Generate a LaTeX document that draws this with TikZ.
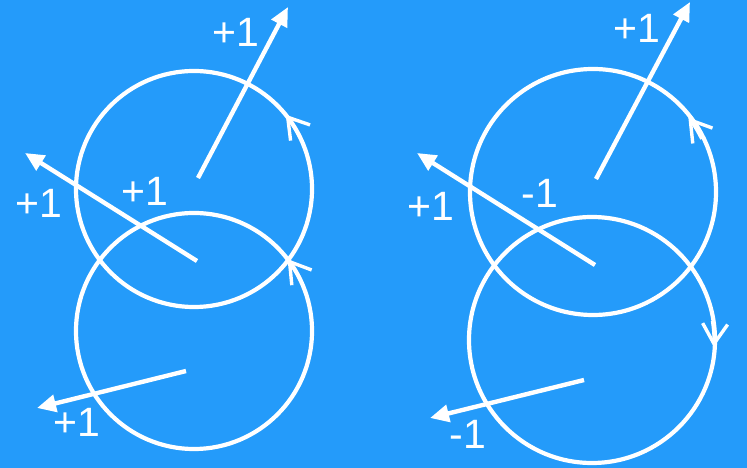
\documentclass[tikz,border=0pt]{standalone}
\usepackage{fontspec}
\setmainfont{Liberation Sans}
\usetikzlibrary{arrows.meta,calc}
\definecolor{bg}{RGB}{36,155,250}
\begin{document}
\begin{tikzpicture}[x=1pt,y=1pt,
  loop/.style={draw=white,line width=4.2pt},
  vec/.style={draw=white,line width=4.4pt,-{Triangle[length=19pt,width=17pt]}},
  dirtip/.style={draw=white,line width=3.4pt,-{Straight Barb[length=20pt,width=25pt,line width=3.4pt]}},
  lbl/.style={text=white,inner sep=0pt,font=\fontsize{41}{44}\selectfont}]
\fill[bg] (0,0) rectangle (747,468);
\useasboundingbox (0,0) rectangle (747,468);
% centres
\coordinate (c1) at (194,279);
\coordinate (c2) at (194,137);
\coordinate (c3) at (593,276);
\coordinate (c4) at (592,128);
% loops
\draw[loop] (c1) circle[radius=118];
\draw[loop] (c2) circle[radius=118];
\draw[loop] (c3) circle[radius=123];
\draw[loop] (c4) circle[radius=123];
% orientation tips
\draw[dirtip] ($(c1)+(26:118)$) arc[start angle=26,end angle=39,radius=118];
\draw[dirtip] ($(c2)+(25:118)$) arc[start angle=25,end angle=37.5,radius=118];
\draw[dirtip] ($(c3)+(26:121)$) arc[start angle=26,end angle=38,radius=121];
\draw[dirtip] ($(c4)+(9:122)$) arc[start angle=9,end angle=-3.3,radius=122];
% vectors
\coordinate (a1) at (198,290); \coordinate (b1) at (288,461);
\coordinate (a2) at (197,207); \coordinate (b2) at (25,315);
\coordinate (a3) at (186,97);  \coordinate (b3) at (37,60);
\coordinate (a4) at (596,289); \coordinate (b4) at (690,466);
\coordinate (a5) at (595,203); \coordinate (b5) at (417,315);
\coordinate (a6) at (584,88);  \coordinate (b6) at (430,50);
\draw[vec] (a1) -- (b1);
\draw[vec] (a2) -- (b2);
\draw[vec] (a3) -- (b3);
\draw[vec] (a4) -- (b4);
\draw[vec] (a5) -- (b5);
\draw[vec] (a6) -- (b6);
% labels
\node[lbl] (tA) at (236,436) {+1};
\node[lbl] (tB) at (39,265) {+1};
\node[lbl] (tC) at (145,277) {+1};
\node[lbl] (tD) at (77,46) {+1};
\node[lbl] (tE) at (637,440) {+1};
\node[lbl] (tF) at (431,262) {+1};
\node[lbl] (tG) at (540,275) {-1};
\node[lbl] (tH) at (468,34) {-1};
\end{tikzpicture}
\end{document}
